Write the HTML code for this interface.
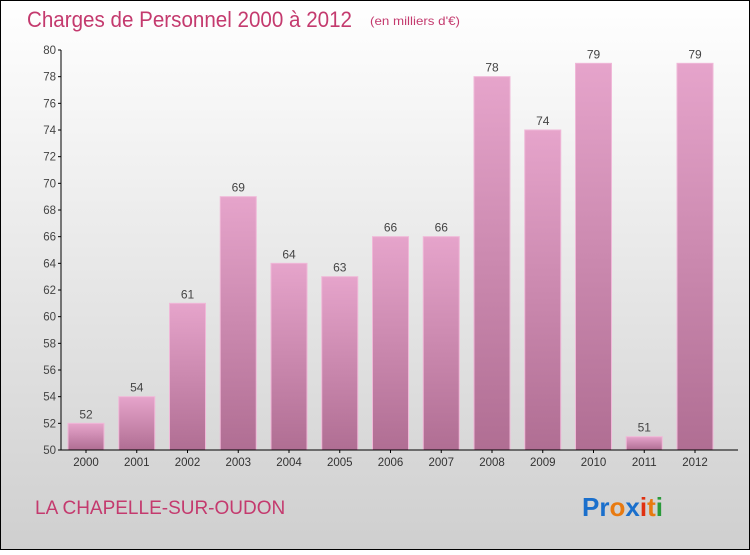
<!DOCTYPE html>
<html><head><meta charset="utf-8"><style>
body{margin:0;width:750px;height:550px;overflow:hidden;font-family:"Liberation Sans",sans-serif}
</style></head><body>
<svg width="750" height="550" xmlns="http://www.w3.org/2000/svg">
<defs>
<linearGradient id="bg" x1="0" y1="0" x2="0" y2="1"><stop offset="0" stop-color="#ffffff"/><stop offset="1" stop-color="#cfcfcf"/></linearGradient>
<linearGradient id="bar" x1="0" y1="0" x2="0" y2="1"><stop offset="0" stop-color="#e6a4cb"/><stop offset="1" stop-color="#b06e93"/></linearGradient>
</defs>
<rect x="0.5" y="0.5" width="749" height="549" fill="url(#bg)" stroke="#000"/>
<text x="27" y="27" font-size="22" fill="#c43a6e" textLength="325" lengthAdjust="spacingAndGlyphs">Charges de Personnel 2000 à 2012</text>
<text x="370" y="25" font-size="12" fill="#c43a6e" textLength="90" lengthAdjust="spacingAndGlyphs">(en milliers d'€)</text>
<g id="plot"></g>
<text x="35" y="514" font-size="19" fill="#c43a6e">LA CHAPELLE-SUR-OUDON</text>
<text x="582" y="516" font-size="26" font-weight="bold"><tspan fill="#1a6fcc">Pr</tspan><tspan fill="#e87a10">o</tspan><tspan fill="#1a6fcc">x</tspan><tspan fill="#e03010">i</tspan><tspan fill="#e87a10">t</tspan><tspan fill="#2a9a3a">i</tspan></text>
</svg>
<script>
const categories=["2000","2001","2002","2003","2004","2005","2006","2007","2008","2009","2010","2011","2012"];
const values=[52,54,61,69,64,63,66,66,78,74,79,51,79];
const yTicks=[50,52,54,56,58,60,62,64,66,68,70,72,74,76,78,80];
const NS="http://www.w3.org/2000/svg";
const g=document.getElementById('plot');
const x0=61,yMin=50,yMax=80,yTop=50,yBot=450,step=50.75,bw=36;
const yScale=v=>yBot-(v-yMin)/(yMax-yMin)*(yBot-yTop);
const xc=i=>86+i*step;
function mk(t,a){const e=document.createElementNS(NS,t);for(const k in a)e.setAttribute(k,a[k]);g.appendChild(e);return e;}
categories.forEach((c,i)=>{
 const r=mk('rect',{x:xc(i)-bw/2,y:yScale(values[i]),width:bw,height:yBot-yScale(values[i]),fill:'url(#bar)',stroke:'#f0b8d8','stroke-width':1});
 
 
 const t=mk('text',{x:xc(i),y:yScale(values[i])-5,'font-size':12,fill:'#444','text-anchor':'middle'});t.textContent=values[i];
 
 
 const l=mk('text',{x:xc(i),y:466,'font-size':11.5,fill:'#333','text-anchor':'middle'});l.textContent=c;
 
 
 mk('line',{x1:xc(i),x2:xc(i),y1:yBot,y2:yBot+3,stroke:'#000'});
});
yTicks.forEach(v=>{
 mk('line',{x1:x0-3,x2:x0,y1:yScale(v),y2:yScale(v),stroke:'#000'});
 const t=mk('text',{x:x0-5,y:yScale(v)+4,'font-size':11.5,fill:'#444','text-anchor':'end'});t.textContent=v;
 
 
});
const ax=mk('line',{x1:x0,x2:x0,y1:yTop,y2:yBot,stroke:'#000'});


const bx=mk('line',{x1:x0,x2:738,y1:yBot,y2:yBot,stroke:'#000'});


</script>
</body></html>
